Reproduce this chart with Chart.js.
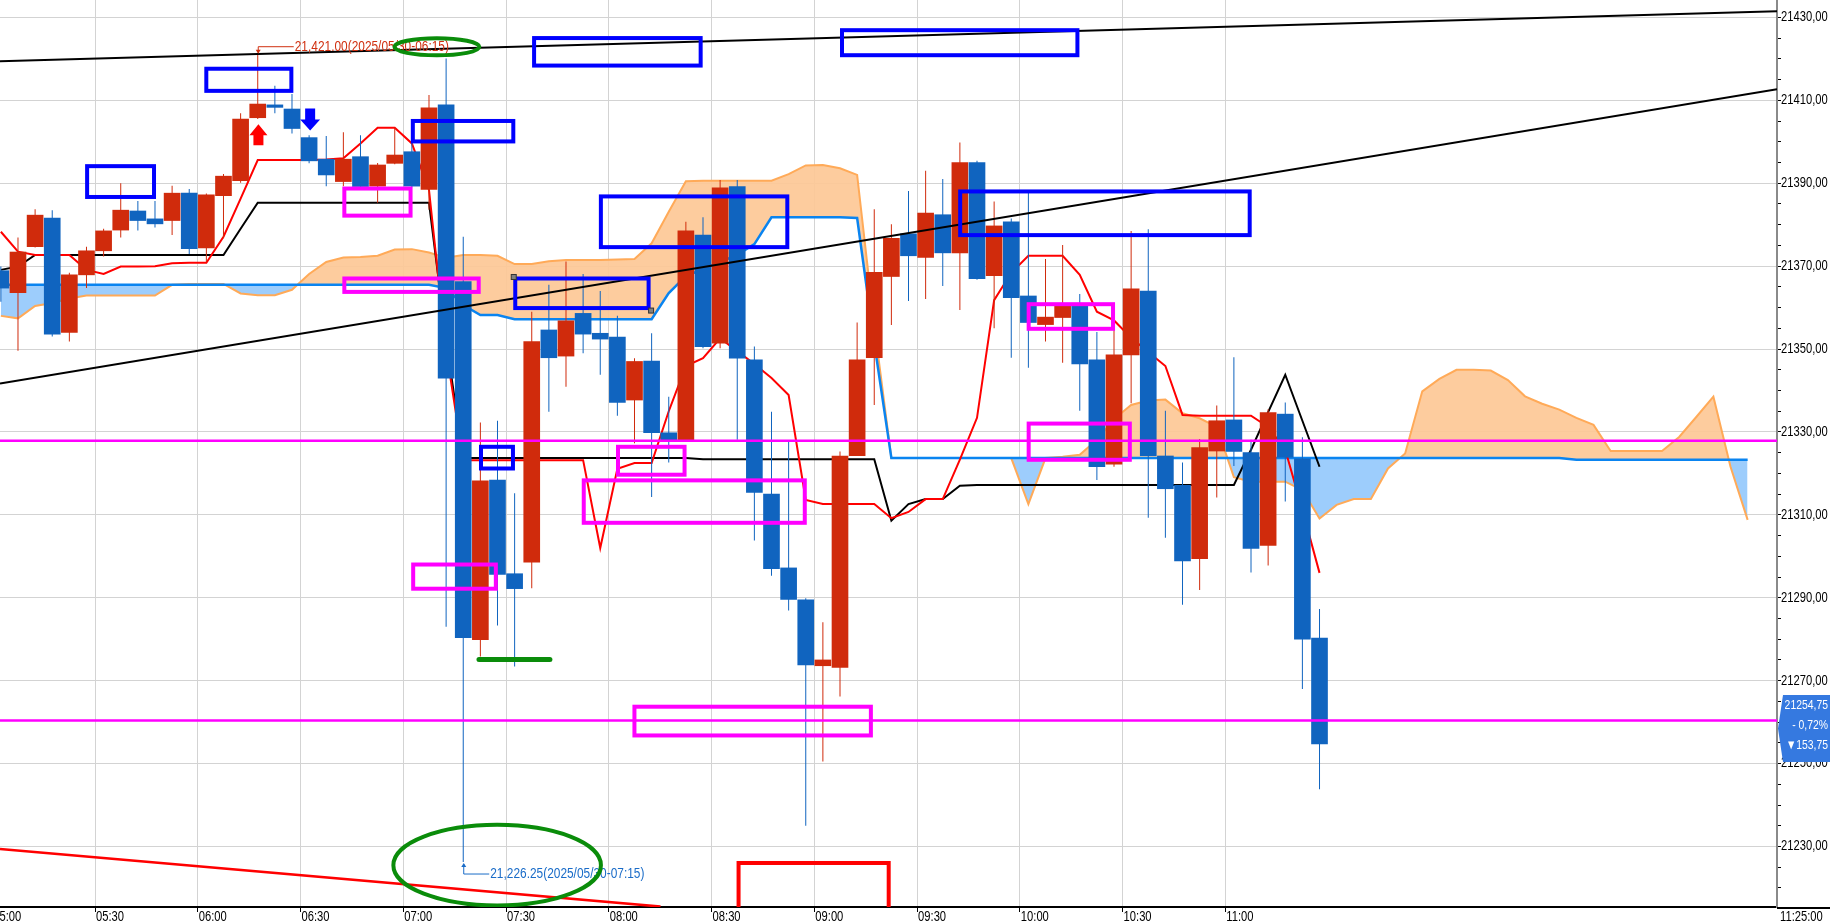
<!DOCTYPE html>
<html>
<head>
<meta charset="utf-8">
<title>5분봉 차트</title>
<script src="https://cdn.jsdelivr.net/npm/chart.js@4.4.1/dist/chart.umd.min.js"></script>
<style>
  html, body { margin: 0; padding: 0; background: #fff; overflow: hidden; }
  #wrap { width: 1830px; height: 923px; }
</style>
</head>
<body>
<div id="wrap"><canvas id="chart" width="1830" height="923"></canvas></div>
<script>
const FONT = '"Liberation Sans", Arial, sans-serif';
Chart.defaults.font.family = FONT;
Chart.defaults.font.size = 14;
Chart.defaults.color = '#000';

// 5분봉, 첫 봉 05:00 시작
const sessionStart = '05:00';
const barMinutes = 5;

// 캔들 (시가/고가/저가/종가)
const opens = [
  21368.9, 21363.6, 21374.7, 21381.6, 21354.0, 21367.9, 21373.7, 21378.7, 21383.3, 21381.4,
  21381.0, 21387.6, 21374.4, 21387.0, 21390.6, 21405.8, 21408.9, 21407.9, 21401.0, 21395.8,
  21390.4, 21396.4, 21389.3, 21394.8, 21397.6, 21388.5, 21408.9, 21366.3, 21279.9, 21318.4,
  21295.8, 21298.6, 21354.6, 21348.3, 21358.6, 21353.8, 21352.9, 21337.7, 21347.1, 21329.8,
  21328.1, 21377.5, 21351.4, 21389.2, 21347.4, 21315.0, 21297.2, 21289.5, 21273.6, 21273.2,
  21324.3, 21347.9, 21367.5, 21377.8, 21372.1, 21382.4, 21373.2, 21395.0, 21367.7, 21380.7,
  21362.8, 21355.9, 21357.6, 21360.6, 21347.4, 21322.2, 21348.6, 21364.0, 21324.2, 21317.1,
  21299.4, 21325.4, 21332.9, 21325.0, 21302.6, 21334.3, 21323.5, 21280.3
];
const highs = [
  21369.9, 21376.9, 21383.7, 21383.5, 21368.4, 21374.7, 21379.0, 21390.0, 21385.7, 21385.7,
  21389.4, 21388.6, 21387.5, 21392.2, 21406.9, 21421.0, 21413.5, 21411.5, 21401.6, 21401.4,
  21402.3, 21401.6, 21394.9, 21403.4, 21401.6, 21411.3, 21420.1, 21377.1, 21332.3, 21332.7,
  21315.2, 21359.0, 21365.5, 21371.1, 21368.1, 21364.0, 21358.0, 21347.8, 21353.8, 21338.5,
  21380.7, 21381.8, 21390.8, 21390.8, 21350.6, 21334.9, 21327.8, 21289.9, 21284.1, 21325.3,
  21356.4, 21383.7, 21380.1, 21388.1, 21393.0, 21391.0, 21399.8, 21395.4, 21385.6, 21381.5,
  21387.7, 21371.7, 21375.1, 21363.3, 21354.1, 21357.2, 21378.5, 21378.9, 21335.1, 21322.6,
  21328.3, 21336.4, 21348.0, 21328.1, 21335.5, 21337.1, 21328.7, 21287.3
];
const lows = [
  21361.4, 21349.6, 21374.5, 21353.0, 21351.8, 21364.7, 21372.3, 21376.9, 21378.6, 21379.3,
  21377.5, 21372.9, 21371.0, 21376.7, 21390.1, 21405.5, 21406.9, 21402.0, 21394.8, 21389.3,
  21389.3, 21388.9, 21385.3, 21394.6, 21389.0, 21383.6, 21283.0, 21226.25, 21275.8, 21283.3,
  21273.4, 21292.3, 21334.9, 21340.9, 21349.0, 21343.8, 21333.9, 21327.3, 21314.3, 21322.6,
  21327.6, 21350.2, 21350.2, 21328.1, 21303.8, 21295.3, 21286.9, 21235.0, 21250.5, 21266.2,
  21324.2, 21336.5, 21355.8, 21361.6, 21362.1, 21365.2, 21359.4, 21366.7, 21355.0, 21347.9,
  21345.5, 21351.8, 21346.7, 21335.1, 21318.4, 21321.6, 21336.9, 21309.3, 21304.5, 21288.3,
  21291.9, 21314.2, 21321.8, 21296.1, 21297.8, 21313.2, 21268.0, 21243.8
];
const closes = [
  21364.7, 21373.4, 21382.3, 21353.6, 21367.9, 21373.7, 21378.5, 21383.5, 21381.0, 21380.2,
  21387.6, 21374.2, 21387.2, 21391.7, 21405.5, 21409.1, 21408.3, 21403.2, 21395.4, 21392.0,
  21395.8, 21389.2, 21394.4, 21396.8, 21389.3, 21408.2, 21343.0, 21280.4, 21318.2, 21295.6,
  21292.2, 21351.8, 21347.9, 21356.8, 21353.6, 21352.4, 21337.1, 21347.0, 21329.8, 21328.1,
  21378.5, 21350.6, 21388.9, 21347.8, 21315.4, 21297.0, 21289.6, 21273.8, 21275.0, 21324.2,
  21347.4, 21368.5, 21376.7, 21372.5, 21382.8, 21373.2, 21395.0, 21367.0, 21379.7, 21362.4,
  21356.4, 21357.7, 21360.4, 21346.4, 21321.6, 21348.6, 21364.5, 21324.3, 21316.3, 21298.9,
  21326.2, 21332.7, 21325.3, 21301.9, 21334.7, 21323.9, 21280.0, 21254.75
];

// 일목균형표: 전환선 / 기준선
const tenkan = [
  21378.3, 21373.5, 21372.7, 21372.7, 21372.7, 21369.1, 21368.1, 21369.9, 21369.9, 21370.0,
  21370.7, 21370.8, 21370.8, 21377.1, 21386.3, 21395.6, 21395.6, 21395.6, 21395.6, 21395.7,
  21396.0, 21399.6, 21403.4, 21403.4, 21399.6, 21388.4, 21349.8, 21323.2, 21323.2, 21323.2,
  21323.2, 21323.2, 21323.2, 21323.2, 21323.2, 21302.0, 21321.1, 21322.5, 21322.5, 21335.0,
  21345.9, 21347.8, 21352.6, 21349.5, 21346.4, 21343.0, 21338.9, 21313.6, 21312.6, 21312.6,
  21312.6, 21312.6, 21309.2, 21310.7, 21313.8, 21313.8, 21323.3, 21333.4, 21361.8, 21368.4,
  21372.5, 21372.5, 21372.5, 21367.9, 21359.0, 21356.9, 21352.7, 21349.3, 21345.9, 21334.1,
  21333.9, 21333.9, 21333.9, 21333.9, 21331.2, 21325.7, 21311.2, 21296.0
];
const kijun = [
  21369.1, 21369.9, 21372.7, 21372.7, 21372.7, 21372.7, 21372.7, 21372.7, 21372.7, 21372.7,
  21372.7, 21372.7, 21372.7, 21372.7, 21379.0, 21385.3, 21385.3, 21385.3, 21385.3, 21385.3,
  21385.3, 21385.3, 21385.3, 21385.3, 21385.3, 21385.3, 21352.2, 21323.7, 21323.7, 21323.7,
  21323.7, 21323.7, 21323.7, 21323.7, 21323.7, 21323.7, 21323.7, 21323.7, 21323.7, 21323.7,
  21323.7, 21323.4, 21323.4, 21323.4, 21323.4, 21323.4, 21323.4, 21323.4, 21323.4, 21323.4,
  21323.4, 21323.4, 21308.6, 21312.6, 21313.8, 21313.8, 21317.0, 21317.2, 21317.2, 21317.2,
  21317.2, 21317.2, 21317.2, 21317.2, 21317.2, 21317.2, 21317.2, 21317.2, 21317.2, 21317.2,
  21317.2, 21317.2, 21317.2, 21325.7, 21334.8, 21343.8, 21332.7, 21321.6
];

// 선행스팬 1 / 2 (25봉 앞까지)
const spanA = [
  21358.0, 21357.4, 21360.4, 21361.1, 21362.2, 21362.9, 21362.9, 21362.9, 21362.9, 21362.9,
  21365.5, 21365.7, 21365.7, 21365.7, 21363.4, 21363.0, 21363.0, 21364.3, 21368.1, 21371.0,
  21372.1, 21372.2, 21372.5, 21374.0, 21374.1, 21373.3, 21372.0, 21372.7, 21372.7, 21372.5,
  21370.5, 21370.5, 21371.2, 21371.5, 21371.5, 21371.5, 21371.6, 21371.7, 21375.5, 21383.1,
  21390.5, 21390.6, 21390.6, 21390.6, 21390.6, 21390.6, 21392.2, 21394.3, 21394.4, 21393.6,
  21392.0, 21355.8, 21323.7, 21323.7, 21323.7, 21323.7, 21323.7, 21323.7, 21323.7, 21323.7,
  21312.6, 21323.7, 21324.0, 21324.5, 21328.1, 21333.1, 21336.5, 21337.6, 21337.8, 21334.5,
  21333.3, 21331.2, 21319.1, 21318.0, 21318.0, 21318.0, 21316.0, 21309.1, 21312.4, 21313.8,
  21313.8, 21321.2, 21324.8, 21339.8, 21342.8, 21345.0, 21345.0, 21344.8, 21342.5, 21338.6,
  21336.8, 21335.4, 21333.4, 21331.7, 21325.4, 21325.4, 21325.4, 21325.4, 21328.8, 21333.6,
  21338.5, 21321.6, 21308.8
];
const spanB = [
  21365.5, 21365.5, 21365.5, 21365.5, 21365.5, 21365.5, 21365.5, 21365.5, 21365.5, 21365.5,
  21365.5, 21365.5, 21365.5, 21365.5, 21365.5, 21365.5, 21365.5, 21365.5, 21365.5, 21365.5,
  21365.5, 21365.5, 21365.5, 21365.5, 21365.5, 21365.5, 21364.7, 21360.6, 21358.2, 21358.2,
  21357.2, 21357.2, 21357.2, 21357.2, 21357.2, 21357.2, 21357.2, 21357.2, 21357.2, 21363.5,
  21367.6, 21369.3, 21371.0, 21372.7, 21375.3, 21381.8, 21381.8, 21381.8, 21381.8, 21381.8,
  21381.6, 21351.5, 21323.7, 21323.7, 21323.7, 21323.7, 21323.7, 21323.7, 21323.7, 21323.7,
  21323.7, 21323.7, 21323.7, 21323.7, 21323.7, 21323.7, 21323.7, 21323.7, 21323.7, 21323.7,
  21323.7, 21323.7, 21323.7, 21323.7, 21323.7, 21323.7, 21323.7, 21323.7, 21323.7, 21323.7,
  21323.7, 21323.7, 21323.7, 21323.7, 21323.7, 21323.7, 21323.7, 21323.7, 21323.7, 21323.7,
  21323.7, 21323.7, 21323.3, 21323.3, 21323.3, 21323.3, 21323.3, 21323.3, 21323.3, 21323.3,
  21323.3, 21323.3, 21323.3
];

// 축
const xTickLabels = ['05:30', '06:00', '06:30', '07:00', '07:30', '08:00', '08:30', '09:00', '09:30', '10:00', '10:30', '11:00'];
const yLabelFrom = 21230, yLabelTo = 21430, yLabelStep = 20, yMinorStep = 5;
const priceTag = ['21254,75', '- 0,72%', '\u25BC153,75'];
const highNote = '21,421.00(2025/05/30-06:15)';
const lowNote = '21,226.25(2025/05/30-07:15)';

// 사용자 작도 (분, 가격)
const blueBoxes = [
  [27.1, 21394.6, 47.8, 21386.2], [61.9, 21418.1, 87.9, 21411.8], [157.6, 21425.5, 207.4, 21417.9],
  [247.5, 21427.4, 317.4, 21420.4], [122.2, 21405.5, 152.7, 21399.6], [177.1, 21387.3, 232.7, 21374.1],
  [152.1, 21367.5, 192.2, 21359.4], [282.0, 21388.5, 367.7, 21377.0], [142.1, 21326.9, 152.6, 21320.7]
];
const magentaBoxes = [
  [102.2, 21389.2, 122.7, 21381.7], [102.2, 21367.5, 142.6, 21363.3], [122.3, 21298.5, 147.6, 21291.7],
  [182.1, 21326.9, 202.7, 21319.2], [172.1, 21318.8, 237.8, 21307.6], [186.9, 21264.2, 257.1, 21256.3],
  [302.0, 21361.3, 327.8, 21354.4], [302.0, 21332.5, 332.7, 21322.8]
];
const redBoxes = [[217.3, 21226.5, 262.3, 21213.5]];
const magentaLevels = [21327.9, 21260.4];
const trendLines = [
  { from: [2.25, 21419.4], to: [521.07, 21431.5], color: '#000', width: 2 },
  { from: [2.25, 21341.7], to: [521.07, 21412.7], color: '#000', width: 2 },
  { from: [2.25, 21229.4], to: [195.1, 21215.5], color: '#ff0000', width: 2.5 },
  { from: [142.1, 21275.1], to: [162.8, 21275.1], color: '#0a8c0a', width: 5 }
];
const ellipses = [[129.8, 21422.9, 12.4, 2.05], [147.4, 21225.5, 30.3, 9.72]];
const upArrow = [77.7, 21404.2];
const downArrow = [92.8, 21402.7];

const UP = '#d02b0c', DOWN = '#1064bf';

function toMinutes(hhmm) {
  const [h, m] = hhmm.split(':').map(Number);
  const [h0, m0] = sessionStart.split(':').map(Number);
  return (h * 60 + m) - (h0 * 60 + m0);
}
function toClock(min) {
  const [h0, m0] = sessionStart.split(':').map(Number);
  const t = h0 * 60 + m0 + min;
  return String(Math.floor(t / 60)).padStart(2, '0') + ':' + String(t % 60).padStart(2, '0');
}
const centerOf = i => i * barMinutes + barMinutes / 2;
const asLine = arr => arr.map((v, i) => ({ x: centerOf(i), y: v }));
const candleColor = ctx => closes[ctx.dataIndex] >= opens[ctx.dataIndex] ? UP : DOWN;
const fmtPrice = v => v.toFixed(2).replace('.', ',');
const xTickValues = xTickLabels.map(toMinutes);

// 좁은 글꼴 대신 가로로 눌러서 그림
function narrowText(ctx, s, x, y, opt) {
  const o = Object.assign({ size: 14, color: '#000', align: 'left', sx: 0.8 }, opt);
  ctx.save();
  ctx.font = o.size + 'px ' + FONT;
  ctx.fillStyle = o.color;
  ctx.textBaseline = 'middle';
  ctx.textAlign = 'left';
  const w = ctx.measureText(s).width * o.sx;
  ctx.translate(o.align === 'right' ? x - w : x, y);
  ctx.scale(o.sx, 1);
  ctx.fillText(s, 0, 0);
  ctx.restore();
}

const drawings = {
  id: 'drawings',
  afterDatasetsDraw(chart) {
    const { ctx, chartArea: a, scales: { x, y } } = chart;
    const px = t => x.getPixelForValue(t);
    const py = v => y.getPixelForValue(v);
    ctx.save();
    ctx.beginPath();
    ctx.rect(a.left, a.top, a.right - a.left, a.bottom - a.top);
    ctx.clip();

    ctx.strokeStyle = '#ff00ff';
    ctx.lineWidth = 2.5;
    magentaLevels.forEach(v => {
      ctx.beginPath(); ctx.moveTo(a.left, py(v)); ctx.lineTo(a.right, py(v)); ctx.stroke();
    });

    trendLines.forEach(l => {
      ctx.strokeStyle = l.color; ctx.lineWidth = l.width; ctx.lineCap = l.width > 3 ? 'round' : 'butt';
      ctx.beginPath(); ctx.moveTo(px(l.from[0]), py(l.from[1])); ctx.lineTo(px(l.to[0]), py(l.to[1])); ctx.stroke();
    });
    ctx.lineCap = 'butt';

    const box = (b, color) => {
      ctx.strokeStyle = color; ctx.lineWidth = 4;
      ctx.strokeRect(px(b[0]) + 2, py(b[1]) + 2, px(b[2]) - px(b[0]) - 4, py(b[3]) - py(b[1]) - 4);
    };
    blueBoxes.forEach(b => box(b, '#0000ff'));
    magentaBoxes.forEach(b => box(b, '#ff00ff'));
    redBoxes.forEach(b => box(b, '#ff0000'));

    // 선택된 박스 핸들
    const sel = blueBoxes[6];
    ctx.fillStyle = '#808080'; ctx.strokeStyle = '#333'; ctx.lineWidth = 1;
    [[sel[0], sel[1]], [sel[2], sel[3]]].forEach(p => {
      ctx.fillRect(px(p[0]) - 2, py(p[1]) - 2, 5, 5); ctx.strokeRect(px(p[0]) - 2, py(p[1]) - 2, 5, 5);
    });

    // 화살표
    let ax = px(upArrow[0]), ay = py(upArrow[1]);
    ctx.fillStyle = '#ff0000';
    ctx.beginPath();
    ctx.moveTo(ax, ay); ctx.lineTo(ax + 9, ay + 11); ctx.lineTo(ax + 5, ay + 11); ctx.lineTo(ax + 5, ay + 21);
    ctx.lineTo(ax - 5, ay + 21); ctx.lineTo(ax - 5, ay + 11); ctx.lineTo(ax - 9, ay + 11); ctx.closePath(); ctx.fill();
    ax = px(downArrow[0]); ay = py(downArrow[1]);
    ctx.fillStyle = '#0000ff';
    ctx.beginPath();
    ctx.moveTo(ax, ay); ctx.lineTo(ax + 10, ay - 11); ctx.lineTo(ax + 5, ay - 11); ctx.lineTo(ax + 5, ay - 22);
    ctx.lineTo(ax - 5, ay - 22); ctx.lineTo(ax - 5, ay - 11); ctx.lineTo(ax - 10, ay - 11); ctx.closePath(); ctx.fill();

    // 최고가 / 최저가 표시
    const hi = highs.indexOf(Math.max(...highs));
    const hx = px(centerOf(hi)), hy = py(highs[hi]);
    ctx.strokeStyle = ctx.fillStyle = '#d03010'; ctx.lineWidth = 1;
    ctx.beginPath(); ctx.moveTo(hx + 0.5, hy - 2); ctx.lineTo(hx + 0.5, hy - 8); ctx.lineTo(hx + 36, hy - 8); ctx.stroke();
    ctx.beginPath(); ctx.moveTo(hx - 2, hy - 5); ctx.lineTo(hx + 3, hy - 5); ctx.lineTo(hx + 0.5, hy - 1); ctx.fill();
    narrowText(ctx, highNote, hx + 37, hy - 8, { color: '#d03010', sx: 0.85 });

    const lo = lows.indexOf(Math.min(...lows));
    const lx = px(centerOf(lo)), ly = py(lows[lo]);
    ctx.strokeStyle = ctx.fillStyle = '#1a6cc8';
    ctx.beginPath(); ctx.moveTo(lx + 0.5, ly + 2); ctx.lineTo(lx + 0.5, ly + 12); ctx.lineTo(lx + 26, ly + 12); ctx.stroke();
    ctx.beginPath(); ctx.moveTo(lx - 2, ly + 5); ctx.lineTo(lx + 3, ly + 5); ctx.lineTo(lx + 0.5, ly + 1); ctx.fill();
    narrowText(ctx, lowNote, lx + 27, ly + 12, { color: '#1a6cc8', sx: 0.85 });

    // 초록 타원
    ctx.strokeStyle = '#0a8c0a'; ctx.lineWidth = 4;
    ellipses.forEach(e => {
      const cx = px(e[0]), cy = py(e[1]);
      ctx.beginPath();
      ctx.ellipse(cx, cy, px(e[0] + e[2]) - cx, cy - py(e[1] + e[3]), 0, 0, Math.PI * 2);
      ctx.stroke();
    });
    ctx.restore();
  },
  afterDraw(chart) {
    const { ctx, chartArea: a, scales: { x, y } } = chart;
    ctx.save();
    // x축 선 연장
    ctx.strokeStyle = '#000'; ctx.lineWidth = 2;
    ctx.beginPath(); ctx.moveTo(a.right, a.bottom + 1); ctx.lineTo(chart.width, a.bottom + 1); ctx.stroke();
    ctx.restore();

    // 축 눈금 글자
    const lblY = a.bottom + 10;
    narrowText(ctx, sessionStart, x.getPixelForValue(0) + 1, lblY);
    xTickValues.forEach((v, i) => narrowText(ctx, xTickLabels[i], x.getPixelForValue(v) + 1, lblY));
    narrowText(ctx, toClock((closes.length - 1) * barMinutes) + ':00', a.right + 3, lblY);
    y.ticks.forEach(t => {
      if ((t.value - yLabelFrom) % yLabelStep === 0) narrowText(ctx, fmtPrice(t.value), a.right + 4, y.getPixelForValue(t.value));
    });

    // 현재가 표시
    const last = closes[closes.length - 1];
    const py = y.getPixelForValue(last);
    const top = py - 49, bot = py + 18, mid = (top + bot) / 2;
    ctx.save();
    ctx.fillStyle = '#3579e0';
    ctx.beginPath();
    ctx.moveTo(a.right + 6, top); ctx.lineTo(chart.width, top); ctx.lineTo(chart.width, bot);
    ctx.lineTo(a.right + 6, bot); ctx.lineTo(a.right + 1, mid); ctx.closePath(); ctx.fill();
    ctx.restore();
    priceTag.forEach((s, i) => narrowText(ctx, s, chart.width - 2, top + 11 + i * 20, { size: 13, color: '#fff', align: 'right' }));
  }
};

new Chart(document.getElementById('chart'), {
  type: 'bar',
  data: {
    datasets: [
      {
        label: '몸통', data: opens.map((o, i) => ({ x: centerOf(i), y: [o, closes[i]] })),
        backgroundColor: candleColor, barThickness: 16, grouped: false, borderWidth: 0, minBarLength: 1, order: 0
      },
      {
        label: '꼬리', data: opens.map((o, i) => ({ x: centerOf(i), y: [lows[i], highs[i]] })),
        backgroundColor: candleColor, barThickness: 1, grouped: false, borderWidth: 0, inflateAmount: 0, order: 1
      },
      { type: 'line', label: '전환선', data: asLine(tenkan), borderColor: '#ff0000', borderWidth: 2, pointRadius: 0, fill: false, order: 2 },
      { type: 'line', label: '기준선', data: asLine(kijun), borderColor: '#000000', borderWidth: 2, pointRadius: 0, fill: false, order: 3 },
      { type: 'line', label: '선행2', data: asLine(spanB), borderColor: '#0a84f0', borderWidth: 2.5, pointRadius: 0, fill: false, order: 4 },
      {
        type: 'line', label: '선행1', data: asLine(spanA), borderColor: '#ffaa58', borderWidth: 2, pointRadius: 0,
        fill: { target: 4, above: 'rgba(253,200,150,0.92)', below: 'rgba(152,202,252,0.95)' }, order: 5
      }
    ]
  },
  options: {
    responsive: false,
    animation: false,
    events: [],
    layout: { padding: 0 },
    plugins: { legend: { display: false }, tooltip: { enabled: false } },
    scales: {
      x: {
        type: 'linear', min: 2.25, max: 521.07, offset: false,
        grid: { color: '#d3d3d3', offset: false, tickColor: '#000', tickLength: 5 },
        border: { color: '#000', width: 2 },
        ticks: { display: false, autoSkip: false, maxRotation: 0 },
        afterBuildTicks: s => { s.ticks = xTickValues.map(v => ({ value: v })); },
        afterFit: s => { s.height = 16; s.paddingLeft = 0; s.paddingRight = 0; }
      },
      y: {
        type: 'linear', position: 'right', min: 21215.4, max: 21434.2,
        grid: {
          color: c => (c.tick && (c.tick.value - yLabelFrom) % yLabelStep === 0) ? '#d3d3d3' : 'rgba(0,0,0,0)',
          tickColor: '#000', tickLength: 4
        },
        border: { color: '#8a8a8a', width: 2 },
        ticks: { display: false, autoSkip: false },
        afterBuildTicks: s => {
          const t = [];
          for (let v = yLabelFrom - 10; v <= yLabelTo; v += yMinorStep) t.push({ value: v });
          s.ticks = t;
        },
        afterFit: s => { s.width = 53; s.paddingTop = 0; s.paddingBottom = 0; }
      }
    }
  },
  plugins: [drawings]
});
</script>
</body>
</html>
